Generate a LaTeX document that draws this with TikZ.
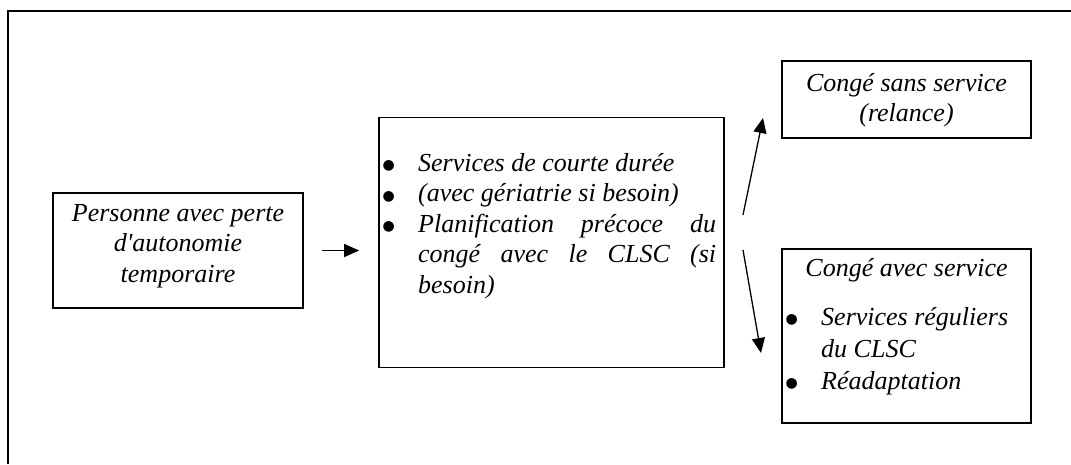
\documentclass[tikz,border=0pt]{standalone}
\usepackage{fontspec}
\setmainfont{Liberation Serif}
\newfontfamily\dotfont{DejaVu Sans}
\usetikzlibrary{arrows.meta,calc}
\newcommand{\bulmark}{\makebox[31pt][l]{\kern-4.5pt\raisebox{1.5pt}{\dotfont\fontsize{14}{14}\selectfont ●}}}
\begin{document}
\begin{tikzpicture}[x=1pt,y=-1pt,
  frame/.style={line width=1.8pt},
  box/.style={draw, line width=1.7pt, inner sep=0pt},
  txt/.style={font=\fontsize{26}{30.5}\selectfont\itshape, inner sep=0pt},
  flow/.style={line width=1.3pt, -{Triangle[length=15pt,width=13pt]}}]
\useasboundingbox (0,0) rectangle (1071,464);
\fill[white] (0,0) rectangle (1071,464);

% open outer frame (top and left sides)
\draw[frame] (1071,11) -- (8,11) -- (8,464);

% boxes
\node[box, minimum width=250pt, minimum height=115pt] (boxA) at (178,250.5) {};
\node[box, minimum width=345pt, minimum height=250pt] (boxB) at (551.5,242.5) {};
\node[box, minimum width=249pt, minimum height=77pt]  (boxC) at (906.5,99.5) {};
\node[box, minimum width=249pt, minimum height=174pt] (boxD) at (906.5,336) {};

% texts
\node[txt, align=center] (tA) at (178,246)
  {Personne avec perte\\d\textquotesingle autonomie\\temporaire};
\node[txt, align=left, anchor=west] (tB) at (387,226) {%
  \bulmark Services de courte durée\\
  \bulmark (avec gériatrie si besoin)\\
  \bulmark\makebox[298pt][s]{Planification précoce du}\\
  \hspace*{31pt}\makebox[298pt][s]{congé avec le CLSC (si}\\
  \hspace*{31pt}besoin)};
\node[txt, align=center] (tC) at (906.5,100) {Congé sans service\\(relance)};
\node[txt] (tD) at (906.5,270) {Congé avec service};
\node[txt, align=left, anchor=west, font=\fontsize{26}{32}\selectfont\itshape] (tDl) at (790,351) {%
  \bulmark Services réguliers\\
  \hspace*{31pt}du CLSC\\
  \bulmark Réadaptation};

% connectors
\coordinate (upS) at (743,215);
\coordinate (upE) at (763,118);
\coordinate (dnS) at (743,250);
\coordinate (dnE) at (761,353);
\draw[flow, shorten <=18pt, shorten >=19pt] (boxA.east) -- (boxA.east -| boxB.west);
\draw[flow] (upS) -- (upE);
\draw[flow] (dnS) -- (dnE);
\end{tikzpicture}
\end{document}
